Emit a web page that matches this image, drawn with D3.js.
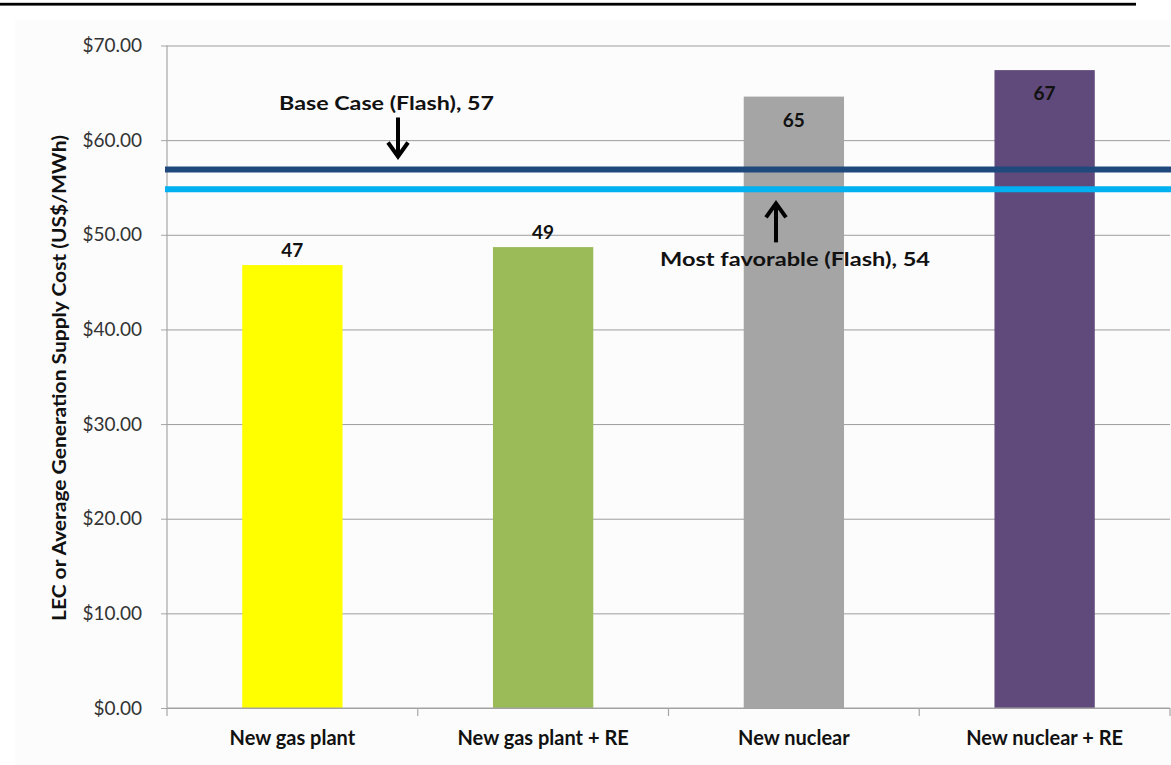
<!DOCTYPE html>
<html>
<head>
<meta charset="utf-8">
<script src="https://cdn.jsdelivr.net/npm/d3@7"></script>
<style>
  html, body { margin: 0; padding: 0; background: #ffffff; }
  svg { display: block; }
</style>
</head>
<body>
<svg id="chart" width="1171" height="765"></svg>
<script>
// ---- data ----
const categories = ["New gas plant", "New gas plant + RE", "New nuclear", "New nuclear + RE"];
const costs = [46.8, 48.7, 64.6, 67.4];
const costLabels = ["47", "49", "65", "67"];
const barColors = ["#FFFF00", "#9BBB59", "#A5A5A5", "#604A7B"];
const yTicks = [0, 10, 20, 30, 40, 50, 60, 70];
const refNames = ["Base Case (Flash), 57", "Most favorable (Flash), 54"];
const refValues = [56.9, 54.8];
const refColors = ["#1F497D", "#00B0F0"];
const yTitle = "LEC or Average Generation Supply Cost (US$/MWh)";

// ---- layout ----
const svg = d3.select("#chart");
const W = 1171, H = 765;
const pLeft = 167, pRight = 1170, pTop = 45.5, pBottom = 708;

svg.append("rect").attr("x", 0).attr("y", 0).attr("width", W).attr("height", H).attr("fill", "#ffffff");
svg.append("rect").attr("x", 15).attr("y", 20).attr("width", W - 15).attr("height", H - 20).attr("fill", "#fcfcfc");
// top rule
svg.append("rect").attr("x", 0).attr("y", 2.8).attr("width", 1136).attr("height", 2.8).attr("fill", "#000");

const x = d3.scaleBand().domain(categories).range([pLeft, pRight]).paddingInner(0.6).paddingOuter(0.3);
const y = d3.scaleLinear().domain([0, 70]).range([pBottom, pTop]);

const font = "Lato, 'Open Sans', 'Liberation Sans', sans-serif";

// gridlines
const grid = svg.append("g")
  .attr("transform", `translate(${pLeft},0)`)
  .call(d3.axisLeft(y).tickValues(yTicks).tickSize(-(pRight - pLeft)).tickFormat(""));
grid.select(".domain").remove();
grid.selectAll("line").attr("stroke", "#9d9d9d").attr("stroke-width", 1);

// y axis
const yAxis = svg.append("g")
  .attr("transform", `translate(${pLeft},0)`)
  .call(d3.axisLeft(y).tickValues(yTicks).tickSize(6).tickPadding(19).tickFormat(d3.format("$.2f")));
yAxis.select(".domain").attr("stroke", "#a6a6a6").attr("stroke-width", 1.2)
  .attr("d", `M0,${pTop}V${pBottom}`);
yAxis.selectAll(".tick line").attr("stroke", "#a6a6a6");
yAxis.selectAll(".tick text")
  .attr("font-family", font).attr("font-size", 19).attr("fill", "#333");

// bars
svg.append("g").selectAll("rect").data(categories).join("rect")
  .attr("x", d => x(d))
  .attr("width", x.bandwidth())
  .attr("y", (d, i) => y(costs[i]))
  .attr("height", (d, i) => y(0) - y(costs[i]))
  .attr("fill", (d, i) => barColors[i]);

// x axis baseline + boundary ticks
const step = x.step();
const bounds = d3.range(categories.length + 1).map(i => pLeft + i * step);
const xAxis = svg.append("g")
  .attr("transform", `translate(0,${pBottom})`)
  .call(d3.axisBottom(x).tickSize(0).tickPadding(23));
xAxis.select(".domain").attr("stroke", "#a6a6a6").attr("stroke-width", 1.2)
  .attr("d", `M${pLeft},0H${pRight}`);
xAxis.selectAll(".tick text")
  .attr("font-family", font).attr("font-size", 20).attr("font-weight", "bold").attr("fill", "#111");
xAxis.selectAll("line.bound").data(bounds).join("line").attr("class", "bound")
  .attr("x1", d => d).attr("x2", d => d).attr("y1", 0).attr("y2", 8)
  .attr("stroke", "#a6a6a6").attr("stroke-width", 1.2);

// reference lines
const refLine = d3.line().x(d => d[0]).y(d => d[1]);
refValues.forEach((v, i) => {
  svg.append("path")
    .attr("d", refLine([[pLeft - 2, y(v)], [W, y(v)]]))
    .attr("stroke", refColors[i]).attr("stroke-width", 6).attr("fill", "none");
});

// bar value labels
svg.append("g").selectAll("text").data(categories).join("text")
  .attr("x", d => x(d) + x.bandwidth() / 2)
  .attr("y", (d, i) => costs[i] > 60 ? y(costs[i]) + 30 : y(costs[i]) - 8)
  .attr("text-anchor", "middle")
  .attr("font-family", font).attr("font-size", 19).attr("font-weight", "bold").attr("fill", "#111")
  .text((d, i) => costLabels[i]);

// annotations
function arrow(xp, tipY, tailY) {
  const dir = tailY > tipY ? 1 : -1;
  const g = svg.append("g").attr("stroke", "#000").attr("stroke-width", 4).attr("fill", "none");
  g.append("line").attr("x1", xp).attr("x2", xp).attr("y1", tailY).attr("y2", tipY + dir * 3);
  g.append("polyline")
    .attr("points", `${xp - 10},${tipY + dir * 17} ${xp},${tipY + dir * 3} ${xp + 10},${tipY + dir * 17}`)
    .attr("stroke-linejoin", "miter");
}
svg.append("text").attr("x", 279).attr("y", 110)
  .attr("font-family", font).attr("font-size", 19).attr("font-weight", "bold").attr("fill", "#111")
  .attr("textLength", 215).attr("lengthAdjust", "spacingAndGlyphs")
  .text(refNames[0]);
arrow(398, y(refValues[0]) - 10, y(refValues[0]) - 52);

svg.append("text").attr("x", 660).attr("y", 266)
  .attr("font-family", font).attr("font-size", 19).attr("font-weight", "bold").attr("fill", "#111")
  .attr("textLength", 270).attr("lengthAdjust", "spacingAndGlyphs")
  .text(refNames[1]);
arrow(776, y(refValues[1]) + 11, y(refValues[1]) + 53);

// y title
svg.append("text")
  .attr("transform", `translate(66,378) rotate(-90)`)
  .attr("text-anchor", "middle")
  .attr("font-family", font).attr("font-size", 18).attr("font-weight", "bold").attr("fill", "#111")
  .attr("textLength", 486).attr("lengthAdjust", "spacingAndGlyphs")
  .text(yTitle);
</script>
</body>
</html>
